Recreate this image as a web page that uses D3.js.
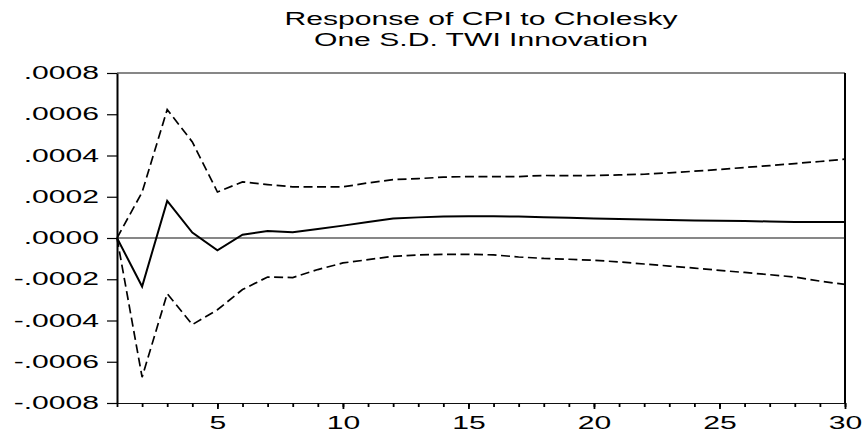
<!DOCTYPE html>
<html>
<head>
<meta charset="utf-8">
<script src="https://cdn.jsdelivr.net/npm/d3@7"></script>
<style>
  body { margin: 0; background: #fff; }
  text { font-family: "Liberation Sans", Arial, sans-serif; }
</style>
</head>
<body>
<script>
// impulse response, periods 1..30
const periods = d3.range(1, 31);

const response = [0, -0.000235, 0.00018, 0.000026, -0.00006, 0.000016, 0.000034, 0.000028, 0.000044, 0.00006,
  0.000078, 0.000094, 0.0001, 0.000104, 0.000105, 0.000105, 0.000104, 0.000101, 0.000098, 0.000095,
  0.000092, 0.00009, 0.000087, 0.000085, 0.000084, 0.000082, 0.00008, 0.000078, 0.000078, 0.000078];

const upper = [0, 0.000222, 0.000623, 0.000466, 0.000223, 0.000272, 0.000259, 0.000248, 0.000248, 0.000248,
  0.000267, 0.000283, 0.000288, 0.000295, 0.000298, 0.000298, 0.000298, 0.000303, 0.000302, 0.000303,
  0.000306, 0.000309, 0.000316, 0.000324, 0.000332, 0.000342, 0.000351, 0.000361, 0.000371, 0.000382];

const lower = [0, -0.000675, -0.00027, -0.00042, -0.000348, -0.00025, -0.000189, -0.000192, -0.000153, -0.000121,
  -0.000105, -0.000089, -0.000082, -0.000079, -0.000079, -0.000082, -0.000092, -0.000099, -0.000103, -0.000108,
  -0.000116, -0.000126, -0.000136, -0.000146, -0.000157, -0.000167, -0.000178, -0.000189, -0.000209, -0.000225];

const yTicks = [0.0008, 0.0006, 0.0004, 0.0002, 0, -0.0002, -0.0004, -0.0006, -0.0008];
const yTickLabels = [".0008", ".0006", ".0004", ".0002", ".0000", "-.0002", "-.0004", "-.0006", "-.0008"];
const xLabelTicks = [5, 10, 15, 20, 25, 30];
const titleLines = ["Response of CPI to Cholesky", "One S.D. TWI Innovation"];

//svg size
const w = 864;
const h = 433;
const margin = { top: 73, right: 19, bottom: 30, left: 117 };
// the reference picture is stretched sideways, so texts are too
const stretch = 1.72;
const fontSize = 17.5;

const svg = d3.select("body").append("svg").attr("width", w).attr("height", h);

const x = d3.scaleLinear().domain([1, 30]).range([margin.left, w - margin.right]);
const y = d3.scaleLinear().domain([-0.0008, 0.0008]).range([h - margin.bottom, margin.top]);

// frame top + right
svg.append("line")
  .attr("x1", x(1)).attr("x2", x(30))
  .attr("y1", y(0.0008)).attr("y2", y(0.0008))
  .attr("stroke", "#111").attr("stroke-width", 1.2);
svg.append("line")
  .attr("x1", x(30)).attr("x2", x(30))
  .attr("y1", y(0.0008)).attr("y2", y(-0.0008))
  .attr("stroke", "#000").attr("stroke-width", 2);

// zero line
svg.append("line")
  .attr("x1", x(1)).attr("x2", x(30))
  .attr("y1", y(0)).attr("y2", y(0))
  .attr("stroke", "#111").attr("stroke-width", 1.2);

// y axis
const yAxis = svg.append("g")
  .attr("transform", `translate(${margin.left},0)`)
  .call(d3.axisLeft(y).tickValues(yTicks)
    .tickFormat((d, i) => yTickLabels[i])
    .tickSize(10).tickSizeOuter(0).tickPadding(8));
yAxis.select(".domain").attr("stroke", "#000").attr("stroke-width", 2);
yAxis.selectAll(".tick line").attr("stroke", "#000").attr("stroke-width", 1.2);

// x axis: minor ticks every period, major with labels
const xMinor = svg.append("g")
  .attr("transform", `translate(0,${h - margin.bottom})`)
  .call(d3.axisBottom(x).tickValues(periods).tickFormat("").tickSize(4).tickSizeOuter(0));
xMinor.select(".domain").attr("stroke", "#111").attr("stroke-width", 1.2);
xMinor.selectAll(".tick line").attr("stroke", "#000").attr("stroke-width", 1.8);

const xMajor = svg.append("g")
  .attr("transform", `translate(0,${h - margin.bottom})`)
  .call(d3.axisBottom(x).tickValues(xLabelTicks).tickSize(6).tickSizeOuter(0).tickPadding(8));
xMajor.select(".domain").remove();
xMajor.selectAll(".tick line").attr("stroke", "#000").attr("stroke-width", 1.8);

svg.selectAll(".tick text")
  .attr("font-size", fontSize)
  .attr("font-family", '"Liberation Sans", Arial, sans-serif')
  .attr("fill", "#000");

// lines
const line = d3.line().x((d, i) => x(periods[i])).y((d) => y(d));

svg.append("path").datum(upper)
  .attr("d", line).attr("fill", "none")
  .attr("stroke", "#000").attr("stroke-width", 1.7).attr("stroke-dasharray", "9,4.5");
svg.append("path").datum(lower)
  .attr("d", line).attr("fill", "none")
  .attr("stroke", "#000").attr("stroke-width", 1.7).attr("stroke-dasharray", "9,4.5");
svg.append("path").datum(response)
  .attr("d", line).attr("fill", "none")
  .attr("stroke", "#000").attr("stroke-width", 2);

// title
svg.selectAll(".title").data(titleLines).enter().append("text")
  .attr("class", "title")
  .attr("x", (x(1) + x(30)) / 2)
  .attr("y", (d, i) => 24.5 + i * 21.5)
  .attr("text-anchor", "middle")
  .attr("font-size", fontSize)
  .attr("fill", "#000")
  .text((d) => d);

// widen every text like the reference
svg.selectAll("text").each(function () {
  const len = this.getComputedTextLength();
  d3.select(this).attr("textLength", len * stretch).attr("lengthAdjust", "spacingAndGlyphs");
});
</script>
</body>
</html>
